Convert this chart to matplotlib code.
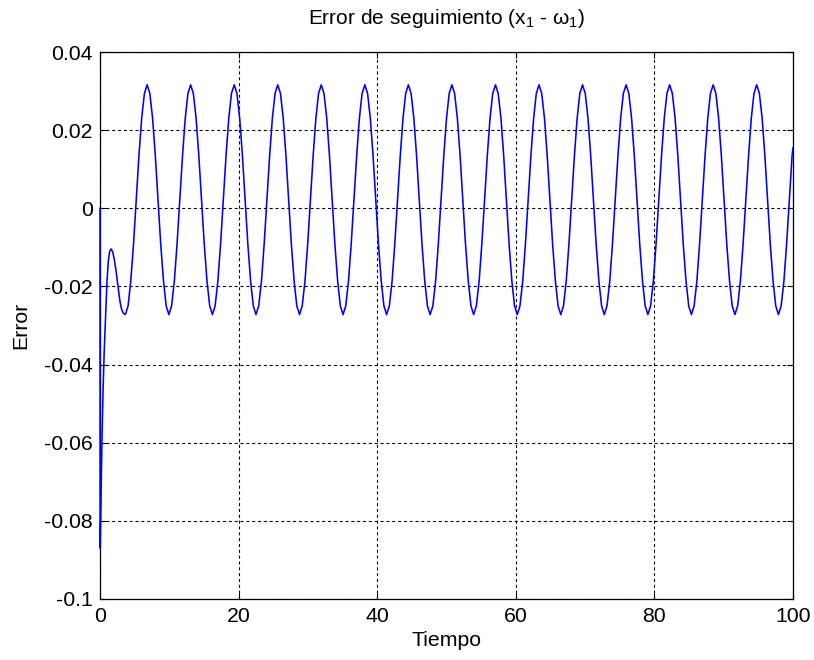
import matplotlib
matplotlib.use("Agg")
import matplotlib.pyplot as plt

# Tracking error samples (time, error)
tiempo = [
    0.00, 0.02, 0.10, 0.20, 0.30, 0.45, 0.60, 0.80, 1.00, 1.20, 1.40, 1.60,
    1.85, 2.10, 2.35, 2.60, 2.85, 3.10, 3.35,
    3.66, 4.05, 4.44, 4.84, 5.23, 5.62, 6.01, 6.41,
    6.80, 7.19, 7.59, 7.98, 8.37, 8.76, 9.16, 9.55, 9.94, 10.33, 10.73, 11.12, 11.51, 11.91, 12.30, 12.69,
    13.08, 13.47, 13.87, 14.26, 14.65, 15.04, 15.44, 15.83, 16.22, 16.61, 17.01, 17.40, 17.79, 18.19, 18.58, 18.97,
    19.37, 19.76, 20.16, 20.55, 20.94, 21.33, 21.73, 22.12, 22.51, 22.90, 23.30, 23.69, 24.08, 24.48, 24.87, 25.26,
    25.65, 26.04, 26.44, 26.83, 27.22, 27.61, 28.01, 28.40, 28.79, 29.18, 29.58, 29.97, 30.36, 30.76, 31.15, 31.54,
    31.93, 32.32, 32.72, 33.11, 33.50, 33.89, 34.29, 34.68, 35.07, 35.46, 35.86, 36.25, 36.64, 37.04, 37.43, 37.82,
    38.22, 38.61, 39.01, 39.40, 39.79, 40.18, 40.58, 40.97, 41.36, 41.75, 42.15, 42.54, 42.93, 43.33, 43.72, 44.11,
    44.50, 44.89, 45.29, 45.68, 46.07, 46.46, 46.86, 47.25, 47.64, 48.03, 48.43, 48.82, 49.21, 49.61, 50.00, 50.39,
    50.78, 51.17, 51.57, 51.96, 52.35, 52.74, 53.14, 53.53, 53.92, 54.31, 54.71, 55.10, 55.49, 55.89, 56.28, 56.67,
    57.07, 57.46, 57.86, 58.25, 58.64, 59.03, 59.43, 59.82, 60.21, 60.60, 61.00, 61.39, 61.78, 62.18, 62.57, 62.96,
    63.35, 63.74, 64.14, 64.53, 64.92, 65.31, 65.71, 66.10, 66.49, 66.88, 67.28, 67.67, 68.06, 68.46, 68.85, 69.24,
    69.63, 70.02, 70.42, 70.81, 71.20, 71.59, 71.99, 72.38, 72.77, 73.16, 73.56, 73.95, 74.34, 74.74, 75.13, 75.52,
    75.92, 76.31, 76.71, 77.10, 77.49, 77.88, 78.28, 78.67, 79.06, 79.45, 79.85, 80.24, 80.63, 81.03, 81.42, 81.81,
    82.20, 82.59, 82.99, 83.38, 83.77, 84.16, 84.56, 84.95, 85.34, 85.73, 86.13, 86.52, 86.91, 87.31, 87.70, 88.09,
    88.48, 88.87, 89.27, 89.66, 90.05, 90.44, 90.84, 91.23, 91.62, 92.01, 92.41, 92.80, 93.19, 93.59, 93.98, 94.37,
    94.76, 95.15, 95.55, 95.94, 96.33, 96.72, 97.12, 97.51, 97.90, 98.29, 98.69, 99.08, 99.47, 99.87, 100.00,
]

error = [
    0.0, -0.087, -0.080, -0.068, -0.058, -0.046, -0.037, -0.028, -0.019, -0.0135, -0.011, -0.0104,
    -0.0112, -0.0135, -0.0165, -0.0200, -0.0235, -0.0258, -0.0268,
    -0.0272, -0.0250, -0.0186, -0.0091, 0.0022, 0.0135, 0.0230, 0.0294,
    0.0316, 0.0294, 0.0230, 0.0135, 0.0022, -0.0091, -0.0186, -0.0250, -0.0272, -0.0250, -0.0186, -0.0091, 0.0022, 0.0135, 0.0230, 0.0294,
    0.0316, 0.0294, 0.0230, 0.0135, 0.0022, -0.0091, -0.0186, -0.0250, -0.0272, -0.0250, -0.0186, -0.0091, 0.0022, 0.0135, 0.0230, 0.0294,
    0.0316, 0.0294, 0.0230, 0.0135, 0.0022, -0.0091, -0.0186, -0.0250, -0.0272, -0.0250, -0.0186, -0.0091, 0.0022, 0.0135, 0.0230, 0.0294,
    0.0316, 0.0294, 0.0230, 0.0135, 0.0022, -0.0091, -0.0186, -0.0250, -0.0272, -0.0250, -0.0186, -0.0091, 0.0022, 0.0135, 0.0230, 0.0294,
    0.0316, 0.0294, 0.0230, 0.0135, 0.0022, -0.0091, -0.0186, -0.0250, -0.0272, -0.0250, -0.0186, -0.0091, 0.0022, 0.0135, 0.0230, 0.0294,
    0.0316, 0.0294, 0.0230, 0.0135, 0.0022, -0.0091, -0.0186, -0.0250, -0.0272, -0.0250, -0.0186, -0.0091, 0.0022, 0.0135, 0.0230, 0.0294,
    0.0316, 0.0294, 0.0230, 0.0135, 0.0022, -0.0091, -0.0186, -0.0250, -0.0272, -0.0250, -0.0186, -0.0091, 0.0022, 0.0135, 0.0230, 0.0294,
    0.0316, 0.0294, 0.0230, 0.0135, 0.0022, -0.0091, -0.0186, -0.0250, -0.0272, -0.0250, -0.0186, -0.0091, 0.0022, 0.0135, 0.0230, 0.0294,
    0.0316, 0.0294, 0.0230, 0.0135, 0.0022, -0.0091, -0.0186, -0.0250, -0.0272, -0.0250, -0.0186, -0.0091, 0.0022, 0.0135, 0.0230, 0.0294,
    0.0316, 0.0294, 0.0230, 0.0135, 0.0022, -0.0091, -0.0186, -0.0250, -0.0272, -0.0250, -0.0186, -0.0091, 0.0022, 0.0135, 0.0230, 0.0294,
    0.0316, 0.0294, 0.0230, 0.0135, 0.0022, -0.0091, -0.0186, -0.0250, -0.0272, -0.0250, -0.0186, -0.0091, 0.0022, 0.0135, 0.0230, 0.0294,
    0.0316, 0.0294, 0.0230, 0.0135, 0.0022, -0.0091, -0.0186, -0.0250, -0.0272, -0.0250, -0.0186, -0.0091, 0.0022, 0.0135, 0.0230, 0.0294,
    0.0316, 0.0294, 0.0230, 0.0135, 0.0022, -0.0091, -0.0186, -0.0250, -0.0272, -0.0250, -0.0186, -0.0091, 0.0022, 0.0135, 0.0230, 0.0294,
    0.0316, 0.0294, 0.0230, 0.0135, 0.0022, -0.0091, -0.0186, -0.0250, -0.0272, -0.0250, -0.0186, -0.0091, 0.0022, 0.0135, 0.0230, 0.0294,
    0.0316, 0.0294, 0.0230, 0.0135, 0.0022, -0.0091, -0.0186, -0.0250, -0.0272, -0.0250, -0.0186, -0.0091, 0.0022, 0.0135, 0.0155,
]

x_ticks = [0, 20, 40, 60, 80, 100]
x_labels = ["0", "20", "40", "60", "80", "100"]
y_ticks = [-0.1, -0.08, -0.06, -0.04, -0.02, 0, 0.02, 0.04]
y_labels = ["-0.1", "-0.08", "-0.06", "-0.04", "-0.02", "0", "0.02", "0.04"]

plt.rcParams["font.family"] = ["Liberation Sans", "DejaVu Sans"]
plt.rcParams["mathtext.fontset"] = "custom"
plt.rcParams["mathtext.rm"] = "Liberation Sans"
plt.rcParams["mathtext.it"] = "Liberation Sans"
plt.rcParams["mathtext.default"] = "regular"

FS = 15.3

fig = plt.figure(figsize=(8.14, 6.6), dpi=100)
ax = fig.add_axes([100 / 814, 1 - 599 / 660, 693 / 814, 547 / 660])

ax.plot(tiempo, error, color="#0000ff", lw=1.15, zorder=3, clip_on=False)

ax.set_xlim(0, 100)
ax.set_ylim(-0.1, 0.04)
ax.set_xticks(x_ticks)
ax.set_xticklabels(x_labels)
ax.set_yticks(y_ticks)
ax.set_yticklabels(y_labels)

ax.grid(True, color="black", linestyle=(0, (2.75, 2.5)), lw=0.8)
ax.tick_params(direction="in", length=4, width=0.8, top=True, right=True,
               labelsize=FS, colors="black")
ax.tick_params(axis="x", pad=6)
ax.tick_params(axis="y", pad=5)
for s in ax.spines.values():
    s.set_linewidth(0.9)
    s.set_color("black")

ax.set_title("Error de seguimiento (x$_1$ - ω$_1$)", fontsize=15, pad=20)
ax.set_xlabel("Tiempo", fontsize=FS, labelpad=3)
ax.set_ylabel("Error", fontsize=FS, labelpad=10)

fig.savefig("out.png", dpi=100, facecolor="white")
